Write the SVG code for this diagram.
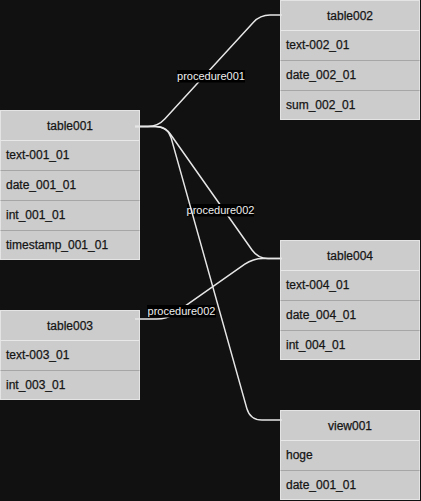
<svg xmlns="http://www.w3.org/2000/svg" width="421" height="501" viewBox="0 0 421 501">
<style>
.bg{fill:#111111}
.box{fill:#cccccc;stroke:#e4e4e4;stroke-width:1}
.hsep{stroke:#e8e8e8;stroke-width:1}
.rsep{stroke:#a6a6a6;stroke-width:1}
.hd{font-family:"Liberation Sans",Arial,sans-serif;font-size:12px;fill:#151515;stroke:#151515;stroke-width:0.25;text-anchor:middle}
.rw{font-family:"Liberation Sans",Arial,sans-serif;font-size:12px;fill:#151515;stroke:#151515;stroke-width:0.25}
.edge{fill:none;stroke:#e6e6e6;stroke-width:1.5}
.lbg{fill:#000000}
.lbl{font-family:"Liberation Sans",Arial,sans-serif;font-size:11px;fill:#eeeeee;text-anchor:middle}
</style>
<rect class="bg" x="0" y="0" width="421" height="501"/>

<g id="table001">
<rect class="box" x="0.5" y="110.5" width="139" height="149"/>
<line class="hsep" x1="0.5" y1="140.5" x2="139.5" y2="140.5"/>
<line class="rsep" x1="0.5" y1="170.5" x2="139.5" y2="170.5"/>
<line class="rsep" x1="0.5" y1="200.5" x2="139.5" y2="200.5"/>
<line class="rsep" x1="0.5" y1="230.5" x2="139.5" y2="230.5"/>
<text class="hd" x="70" y="130">table001</text>
<text class="rw" x="6" y="159">text-001_01</text>
<text class="rw" x="6" y="189">date_001_01</text>
<text class="rw" x="6" y="219">int_001_01</text>
<text class="rw" x="6" y="249">timestamp_001_01</text>
</g>

<g id="table002">
<rect class="box" x="280.5" y="0.5" width="139" height="119"/>
<line class="hsep" x1="280.5" y1="30.5" x2="419.5" y2="30.5"/>
<line class="rsep" x1="280.5" y1="60.5" x2="419.5" y2="60.5"/>
<line class="rsep" x1="280.5" y1="90.5" x2="419.5" y2="90.5"/>
<text class="hd" x="350" y="20">table002</text>
<text class="rw" x="286" y="49">text-002_01</text>
<text class="rw" x="286" y="79">date_002_01</text>
<text class="rw" x="286" y="109">sum_002_01</text>
</g>

<g id="table004">
<rect class="box" x="280.5" y="240.5" width="139" height="119"/>
<line class="hsep" x1="280.5" y1="270.5" x2="419.5" y2="270.5"/>
<line class="rsep" x1="280.5" y1="300.5" x2="419.5" y2="300.5"/>
<line class="rsep" x1="280.5" y1="330.5" x2="419.5" y2="330.5"/>
<text class="hd" x="350" y="260">table004</text>
<text class="rw" x="286" y="289">text-004_01</text>
<text class="rw" x="286" y="319">date_004_01</text>
<text class="rw" x="286" y="349">int_004_01</text>
</g>

<g id="table003">
<rect class="box" x="0.5" y="310.5" width="139" height="89"/>
<line class="hsep" x1="0.5" y1="340.5" x2="139.5" y2="340.5"/>
<line class="rsep" x1="0.5" y1="370.5" x2="139.5" y2="370.5"/>
<text class="hd" x="70" y="330">table003</text>
<text class="rw" x="6" y="359">text-003_01</text>
<text class="rw" x="6" y="389">int_003_01</text>
</g>

<g id="view001">
<rect class="box" x="280.5" y="410.5" width="139" height="89"/>
<line class="hsep" x1="280.5" y1="440.5" x2="419.5" y2="440.5"/>
<line class="rsep" x1="280.5" y1="470.5" x2="419.5" y2="470.5"/>
<text class="hd" x="350" y="430">view001</text>
<text class="rw" x="286" y="459">hoge</text>
<text class="rw" x="286" y="489">date_001_01</text>
</g>

<g id="connectors">
<path class="edge" d="M135,126.5 H148 Q158,126.5 164.75,119.1 L253.25,22.4 Q260,15 270,15 H282"/>
<path class="edge" d="M135,126.5 H155 Q165,126.5 170.8,134.7 L252.2,250.3 Q258,258.5 268,258.5 H282"/>
<path class="edge" d="M135,319 H156.5 Q166.5,319 174.7,313.3 L244.8,264.2 Q253,258.5 263,258.5 H282"/>
<rect class="lbg" x="177" y="70" width="68" height="12.5"/>
<text class="lbl" x="211" y="80">procedure001</text>
<rect class="lbg" x="187" y="204" width="67" height="12.5"/>
<text class="lbl" x="220.5" y="214">procedure002</text>
<rect class="lbg" x="147" y="305" width="69" height="12.5"/>
<text class="lbl" x="181.5" y="315">procedure002</text>
<path class="edge" d="M135,126.5 H156 Q168,126.5 171.2,138.1 L246.8,408.4 Q250,420 262,420 H282"/>
</g>
</svg>
